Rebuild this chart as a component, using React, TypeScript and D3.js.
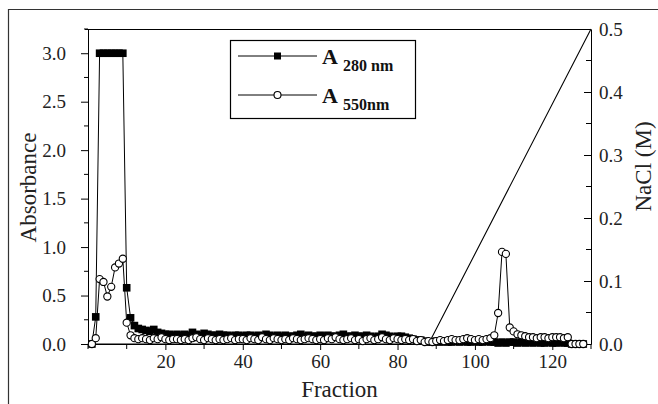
import React, { useEffect, useRef } from 'react';
import * as d3 from 'd3';

// fractions 1..128
const fractions: number[] = d3.range(1, 129);

const a280: number[] = [
  0.00, 0.28, 3.0, 3.0, 3.0, 3.0, 3.0, 3.0, 3.0, 0.58,
  0.27, 0.19, 0.16, 0.15, 0.14, 0.13, 0.15, 0.12, 0.11, 0.10,
  0.10, 0.09, 0.10, 0.09, 0.10, 0.09, 0.12, 0.10, 0.09, 0.11,
  0.10, 0.09, 0.09, 0.10, 0.09, 0.09, 0.08, 0.09, 0.09, 0.08,
  0.09, 0.09, 0.08, 0.09, 0.08, 0.10, 0.09, 0.08, 0.09, 0.08,
  0.09, 0.08, 0.08, 0.09, 0.10, 0.08, 0.09, 0.08, 0.08, 0.09,
  0.08, 0.09, 0.08, 0.08, 0.09, 0.10, 0.08, 0.08, 0.09, 0.08,
  0.08, 0.09, 0.08, 0.07, 0.08, 0.10, 0.09, 0.08, 0.07, 0.08,
  0.08, 0.07, 0.06, 0.05, 0.04, 0.04, 0.03, 0.02, 0.02, 0.03,
  0.02, 0.03, 0.02, 0.02, 0.03, 0.02, 0.03, 0.02, 0.02, 0.03,
  0.02, 0.02, 0.03, 0.02, 0.02, 0.01, 0.02, 0.01, 0.02, 0.02,
  0.01, 0.02, 0.01, 0.02, 0.01, 0.02, 0.01, 0.01, 0.02, 0.01,
  0.01, 0.02, 0.01, 0.01, 0.00, 0.00, 0.00, 0.00,
];

const a550: number[] = [
  0.00, 0.06, 0.67, 0.64, 0.49, 0.59, 0.79, 0.83, 0.88, 0.22,
  0.09, 0.06, 0.05, 0.06, 0.05, 0.04, 0.06, 0.05, 0.07, 0.05,
  0.04, 0.05, 0.05, 0.04, 0.05, 0.04, 0.06, 0.07, 0.05, 0.04,
  0.06, 0.05, 0.04, 0.05, 0.04, 0.05, 0.06, 0.04, 0.05, 0.05,
  0.04, 0.06, 0.05, 0.04, 0.07, 0.05, 0.04, 0.06, 0.05, 0.04,
  0.05, 0.04, 0.06, 0.05, 0.04, 0.05, 0.06, 0.05, 0.04, 0.05,
  0.04, 0.06, 0.05, 0.07, 0.05, 0.04, 0.05, 0.06, 0.04, 0.05,
  0.03, 0.05, 0.06, 0.04, 0.05, 0.07, 0.05, 0.04, 0.06, 0.05,
  0.04, 0.05, 0.04, 0.05, 0.03, 0.04, 0.02, 0.03, 0.02, 0.03,
  0.04, 0.03, 0.04, 0.05, 0.04, 0.04, 0.05, 0.06, 0.05, 0.04,
  0.05, 0.04, 0.05, 0.06, 0.09, 0.32, 0.95, 0.93, 0.17, 0.13,
  0.10, 0.09, 0.08, 0.07, 0.07, 0.06, 0.07, 0.07, 0.06, 0.07,
  0.07, 0.07, 0.06, 0.07, 0.00, 0.00, 0.00, 0.00,
];

// NaCl gradient (M)
const naclFraction: number[] = [0, 88, 130];
const naclConc: number[] = [0, 0, 0.5];

const xTicks: number[] = [20, 40, 60, 80, 100, 120];
const yLeftTicks: number[] = [0, 0.5, 1.0, 1.5, 2.0, 2.5, 3.0];
const yRightTicks: number[] = [0, 0.1, 0.2, 0.3, 0.4, 0.5];

const FONT = 'Liberation Serif';

const App: React.FC = () => {
  const ref = useRef<SVGSVGElement | null>(null);

  useEffect(() => {
    if (!ref.current) return;
    const svg = d3.select(ref.current);
    svg.selectAll('*').remove();

    const width = 658;
    const height = 404;
    const left = 88, right = 591, top = 29, bottom = 344;

    const x = d3.scaleLinear().domain([0, 130]).range([left, right]);
    const y = d3.scaleLinear().domain([0, 3.25]).range([bottom, top]);
    const y2 = d3.scaleLinear().domain([0, 0.5]).range([bottom, top]);

    svg.attr('width', width).attr('height', height)
      .style('font-family', FONT);

    // outer frame (cropped)
    svg.append('path')
      .attr('d', `M8.5,${height + 5}V9.5H${width + 5}`)
      .attr('fill', 'none').attr('stroke', '#333').attr('stroke-width', 1.2);

    // bottom axis
    const xAxis = svg.append('g').attr('transform', `translate(0,${bottom})`);
    xAxis.call(d3.axisBottom(x).tickValues(xTicks).tickSize(6).tickSizeOuter(0).tickPadding(5).tickFormat(d3.format('d')));
    xAxis.append('g').selectAll('line')
      .data(d3.range(0, 131, 10).filter(v => !xTicks.includes(v)))
      .enter().append('line')
      .attr('x1', d => x(d)).attr('x2', d => x(d)).attr('y1', 0).attr('y2', 5)
      .attr('stroke', '#000');

    // left axis
    const yAxis = svg.append('g').attr('transform', `translate(${left},0)`);
    yAxis.call(d3.axisLeft(y).tickValues(yLeftTicks).tickSize(7).tickSizeOuter(0).tickPadding(15).tickFormat(d3.format('.1f')));
    yAxis.append('g').selectAll('line')
      .data([0.25, 0.75, 1.25, 1.75, 2.25, 2.75, 3.25])
      .enter().append('line')
      .attr('x1', 0).attr('x2', -4).attr('y1', d => y(d)).attr('y2', d => y(d))
      .attr('stroke', '#000');

    // right axis (ticks inward)
    const y2Axis = svg.append('g').attr('transform', `translate(${right},0)`);
    y2Axis.call(d3.axisRight(y2).tickValues(yRightTicks).tickSize(-7).tickSizeOuter(0).tickPadding(8).tickFormat(d3.format('.1f')));
    y2Axis.append('g').selectAll('line')
      .data([0.05, 0.15, 0.25, 0.35, 0.45])
      .enter().append('line')
      .attr('x1', 0).attr('x2', -5).attr('y1', d => y2(d)).attr('y2', d => y2(d))
      .attr('stroke', '#000');

    [xAxis, yAxis, y2Axis].forEach(g => g.attr('font-family', FONT).attr('font-size', 19));

    // top border
    svg.append('line')
      .attr('x1', left - 3).attr('x2', right).attr('y1', top + 0.5).attr('y2', top + 0.5)
      .attr('stroke', '#000');

    svg.selectAll('.tick text')
      .attr('font-family', FONT).attr('font-size', 19).attr('fill', '#222');
    svg.selectAll('.domain').attr('stroke', '#000');

    // NaCl gradient line
    const naclLine = d3.line<number>()
      .x((_, i) => x(naclFraction[i]))
      .y((_, i) => y2(naclConc[i]));
    svg.append('path')
      .datum(naclConc)
      .attr('d', naclLine)
      .attr('fill', 'none').attr('stroke', '#000').attr('stroke-width', 1.1);

    const line = (vals: number[]) => d3.line<number>()
      .x((_, i) => x(fractions[i]))
      .y(d => y(d))(vals);

    // A280
    svg.append('path').attr('d', line(a280))
      .attr('fill', 'none').attr('stroke', '#000').attr('stroke-width', 1);
    svg.append('g').selectAll('rect')
      .data(a280)
      .enter().append('rect')
      .attr('x', (_, i) => x(fractions[i]) - 3.8)
      .attr('y', d => y(d) - 3.8)
      .attr('width', 7.6).attr('height', 7.6)
      .attr('fill', '#000');

    // A550
    svg.append('path').attr('d', line(a550))
      .attr('fill', 'none').attr('stroke', '#000').attr('stroke-width', 1);
    svg.append('g').selectAll('circle')
      .data(a550)
      .enter().append('circle')
      .attr('cx', (_, i) => x(fractions[i]))
      .attr('cy', d => y(d))
      .attr('r', 3.6)
      .attr('fill', '#fff').attr('stroke', '#000').attr('stroke-width', 1.1);

    // axis titles
    svg.append('text')
      .attr('transform', `translate(36,${(top + bottom) / 2 + 1}) rotate(-90)`)
      .attr('text-anchor', 'middle')
      .attr('font-family', FONT).attr('font-size', 23).attr('fill', '#222')
      .text('Absorbance');
    svg.append('text')
      .attr('transform', `translate(651,${(top + bottom) / 2 - 20}) rotate(-90)`)
      .attr('text-anchor', 'middle')
      .attr('font-family', FONT).attr('font-size', 23).attr('fill', '#222')
      .text('NaCl (M)');
    svg.append('text')
      .attr('x', (left + right) / 2).attr('y', 397)
      .attr('text-anchor', 'middle')
      .attr('font-family', FONT).attr('font-size', 23).attr('fill', '#222')
      .text('Fraction');

    // legend
    const lg = svg.append('g');
    lg.append('rect')
      .attr('x', 230.5).attr('y', 40.5).attr('width', 185).attr('height', 78)
      .attr('fill', '#fff').attr('stroke', '#000').attr('stroke-width', 1.2);
    const rows = [
      { y: 56, sub: '280 nm', kind: 'square' },
      { y: 95, sub: '550nm', kind: 'circle' },
    ];
    rows.forEach(r => {
      lg.append('line').attr('x1', 238).attr('x2', 317).attr('y1', r.y).attr('y2', r.y)
        .attr('stroke', '#000');
      if (r.kind === 'square') {
        lg.append('rect').attr('x', 274).attr('y', r.y - 3.5).attr('width', 7).attr('height', 7).attr('fill', '#000');
      } else {
        lg.append('circle').attr('cx', 277.5).attr('cy', r.y).attr('r', 3.5)
          .attr('fill', '#fff').attr('stroke', '#000').attr('stroke-width', 1.1);
      }
      lg.append('text').attr('x', 322).attr('y', r.y + 8)
        .attr('font-family', FONT).attr('font-size', 22).attr('font-weight', 'bold').attr('fill', '#111')
        .text('A');
      lg.append('text').attr('x', 343).attr('y', r.y + 15)
        .attr('font-family', FONT).attr('font-size', 16).attr('font-weight', 'bold').attr('fill', '#111')
        .text(r.sub);
    });
  }, []);

  return (
    <div style={{ position: 'absolute', left: 0, top: 0, background: '#fff' }}>
      <svg ref={ref} style={{ display: 'block' }} />
    </div>
  );
};

export default App;
